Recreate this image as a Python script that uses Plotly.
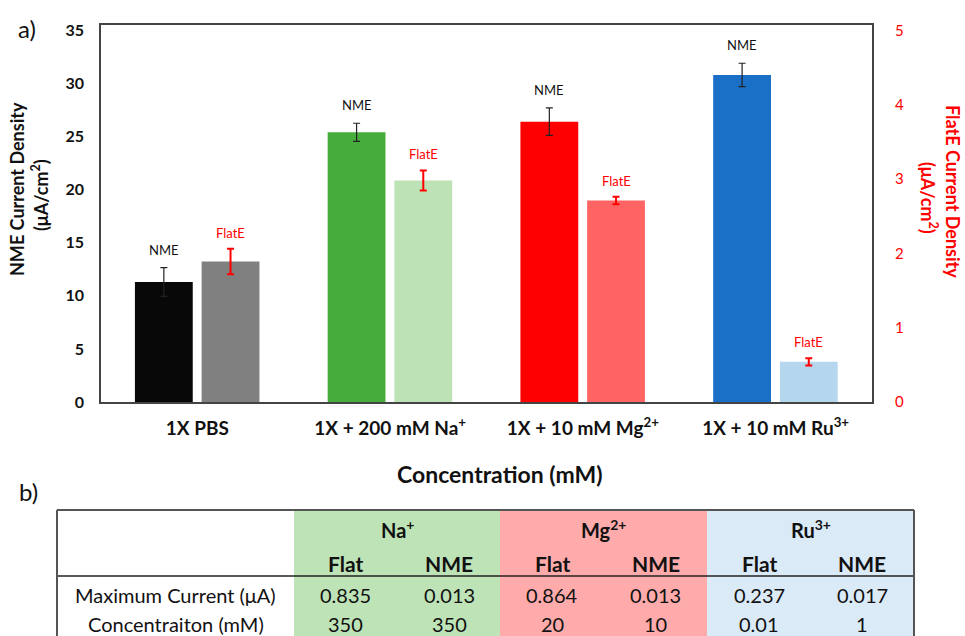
import plotly.graph_objects as go

# ---------------- data ----------------
categories = ["1X PBS", "1X + 200 mM Na<sup>+</sup>", "1X + 10 mM Mg<sup>2+</sup>", "1X + 10 mM Ru<sup>3+</sup>"]
nme_values = [11.3, 25.4, 26.4, 30.8]
nme_errors = [1.35, 0.85, 1.3, 1.1]
flate_values = [1.89, 2.98, 2.71, 0.54]
flate_errors = [0.17, 0.135, 0.05, 0.05]
nme_colors = ["#080808", "#46ad3c", "#fe0000", "#1a70c6"]
flate_colors = ["#808080", "#bde2b5", "#ff6464", "#b4d7ee"]
left_ticks = [0, 5, 10, 15, 20, 25, 30, 35]
right_ticks = [0, 1, 2, 3, 4, 5]

table_ions = ["Na<sup>+</sup>", "Mg<sup>2+</sup>", "Ru<sup>3+</sup>"]
table_sub = ["Flat", "NME"]
table_row_labels = ["Maximum Current (μA)", "Concentraiton (mM)"]
max_current = ["0.835", "0.013", "0.864", "0.013", "0.237", "0.017"]
concentration = ["350", "350", "20", "10", "0.01", "1"]
table_fills = ["#bee3b7", "#ffabab", "#dbeaf7"]

# ---------------- layout helpers ----------------
FW, FH = 965, 636
L, R, T, B = 101, 872, 25, 402
W, H = R - L, B - T


def px(x):
    return (x - L) / W


def py(y):
    return (B - y) / H


FONT = "Lato"
BAR_W = 0.30
NME_OFF = -0.324
FLAT_OFF = 0.022


def note(x, y, text, size, color="#111111", weight=400, angle=0):
    return dict(x=px(x), y=py(y), xref="paper", yref="paper", text=text, showarrow=False,
                xanchor="center", yanchor="middle", textangle=angle,
                font=dict(family=FONT, size=size, color=color, weight=weight))


fig = go.Figure()
n = len(categories)
fig.add_trace(go.Bar(
    x=categories, y=nme_values, yaxis="y",
    width=[BAR_W] * n, offset=[NME_OFF] * n,
    marker=dict(color=nme_colors, line=dict(width=0)),
    error_y=dict(type="data", array=nme_errors, color="#222222", thickness=1.2, width=3.5),
    showlegend=False, hoverinfo="skip",
))
fig.add_trace(go.Bar(
    x=categories, y=flate_values, yaxis="y2",
    width=[BAR_W] * n, offset=[FLAT_OFF] * n,
    marker=dict(color=flate_colors, line=dict(width=0)),
    error_y=dict(type="data", array=flate_errors, color="#ff0000", thickness=2, width=3.5),
    showlegend=False, hoverinfo="skip",
))

ann = []
for i in range(n):
    ann.append(dict(x=i + NME_OFF + BAR_W / 2, y=nme_values[i] + nme_errors[i], xref="x", yref="y",
                    text="NME", showarrow=False, xanchor="center", yanchor="bottom", yshift=8,
                    font=dict(family=FONT, size=13, color="#111111")))
    ann.append(dict(x=i + FLAT_OFF + BAR_W / 2, y=flate_values[i] + flate_errors[i], xref="x", yref="y2",
                    text="FlatE", showarrow=False, xanchor="center", yanchor="bottom", yshift=6,
                    font=dict(family=FONT, size=13, color="#ff0000")))

# panel labels and axis titles
ann.append(note(27, 29, "a)", 24))
ann.append(note(28, 491, "b)", 24))
ann.append(note(17, 189, "NME Current Density", 18, weight=700, angle=-90))
ann.append(note(40, 195, "(μA/cm<sup>2</sup>)", 18, weight=700, angle=-90))
ann.append(note(953, 191, "FlatE Current Density", 18, color="#ff0000", weight=700, angle=90))
ann.append(note(929, 198, "(μA/cm<sup>2</sup>)", 18, color="#ff0000", weight=700, angle=90))
ann.append(note(500, 474, "Concentration (mM)", 23, weight=700))

# ---------------- table ----------------
col_edges = [57, 294, 500, 707, 914]
tab_top, head_line, tab_bot = 510, 576, 645
shapes = []
for k in range(3):
    shapes.append(dict(type="rect", xref="paper", yref="paper", layer="below",
                       x0=px(col_edges[k + 1]), x1=px(col_edges[k + 2]), y0=py(tab_top), y1=py(tab_bot),
                       fillcolor=table_fills[k], line=dict(width=0)))
shapes.append(dict(type="line", xref="paper", yref="paper", x0=px(col_edges[0]), x1=px(col_edges[-1]),
                   y0=py(tab_top), y1=py(tab_top), line=dict(color="#555555", width=2)))
shapes.append(dict(type="line", xref="paper", yref="paper", x0=px(col_edges[0]), x1=px(col_edges[-1]),
                   y0=py(head_line), y1=py(head_line), line=dict(color="#222222", width=1.5)))
for xe in (col_edges[0], col_edges[-1]):
    shapes.append(dict(type="line", xref="paper", yref="paper", x0=px(xe), x1=px(xe),
                       y0=py(tab_top), y1=py(tab_bot), line=dict(color="#555555", width=2)))

for k in range(3):
    gx = (col_edges[k + 1] + col_edges[k + 2]) / 2
    ann.append(note(gx, 529, table_ions[k], 20, weight=700))
sub_w = (col_edges[-1] - col_edges[1]) / 6
for j in range(6):
    cx = col_edges[1] + sub_w * (j + 0.5)
    ann.append(note(cx, 563, table_sub[j % 2], 21, weight=700))
    ann.append(note(cx, 595, max_current[j], 20))
    ann.append(note(cx, 624, concentration[j], 20))
label_cx = (col_edges[0] + col_edges[1]) / 2
for r, lab in enumerate(table_row_labels):
    ann.append(note(label_cx, 595 + 29 * r, lab, 20))

fig.update_layout(
    width=FW, height=FH,
    margin=dict(l=L, r=FW - R, t=T, b=FH - B, pad=0),
    paper_bgcolor="white", plot_bgcolor="white",
    barmode="overlay",
    hovermode=False,
    xaxis=dict(showgrid=False, showline=True, mirror=True, linecolor="#444444", linewidth=1.5,
               ticks="", ticklabelstandoff=8,
               tickfont=dict(family=FONT, size=19, color="#111111", weight=700)),
    yaxis=dict(range=[0, 35.5], tickvals=left_ticks, showgrid=False, zeroline=False,
               showline=True, mirror=True, linecolor="#444444", linewidth=1.5, ticks="",
               ticklabelstandoff=12,
               tickfont=dict(family=FONT, size=16, color="#111111", weight=700)),
    yaxis2=dict(range=[0, 5 * 35.5 / 35], tickvals=right_ticks, overlaying="y", side="right",
                showgrid=False, zeroline=False, showline=False, ticks="", ticklabelstandoff=22,
                tickfont=dict(family=FONT, size=15, color="#ff0000")),
    annotations=ann,
    shapes=shapes,
)

fig.write_html("out.html", config={"displayModeBar": False},
               post_script="document.body.style.margin='0';")
